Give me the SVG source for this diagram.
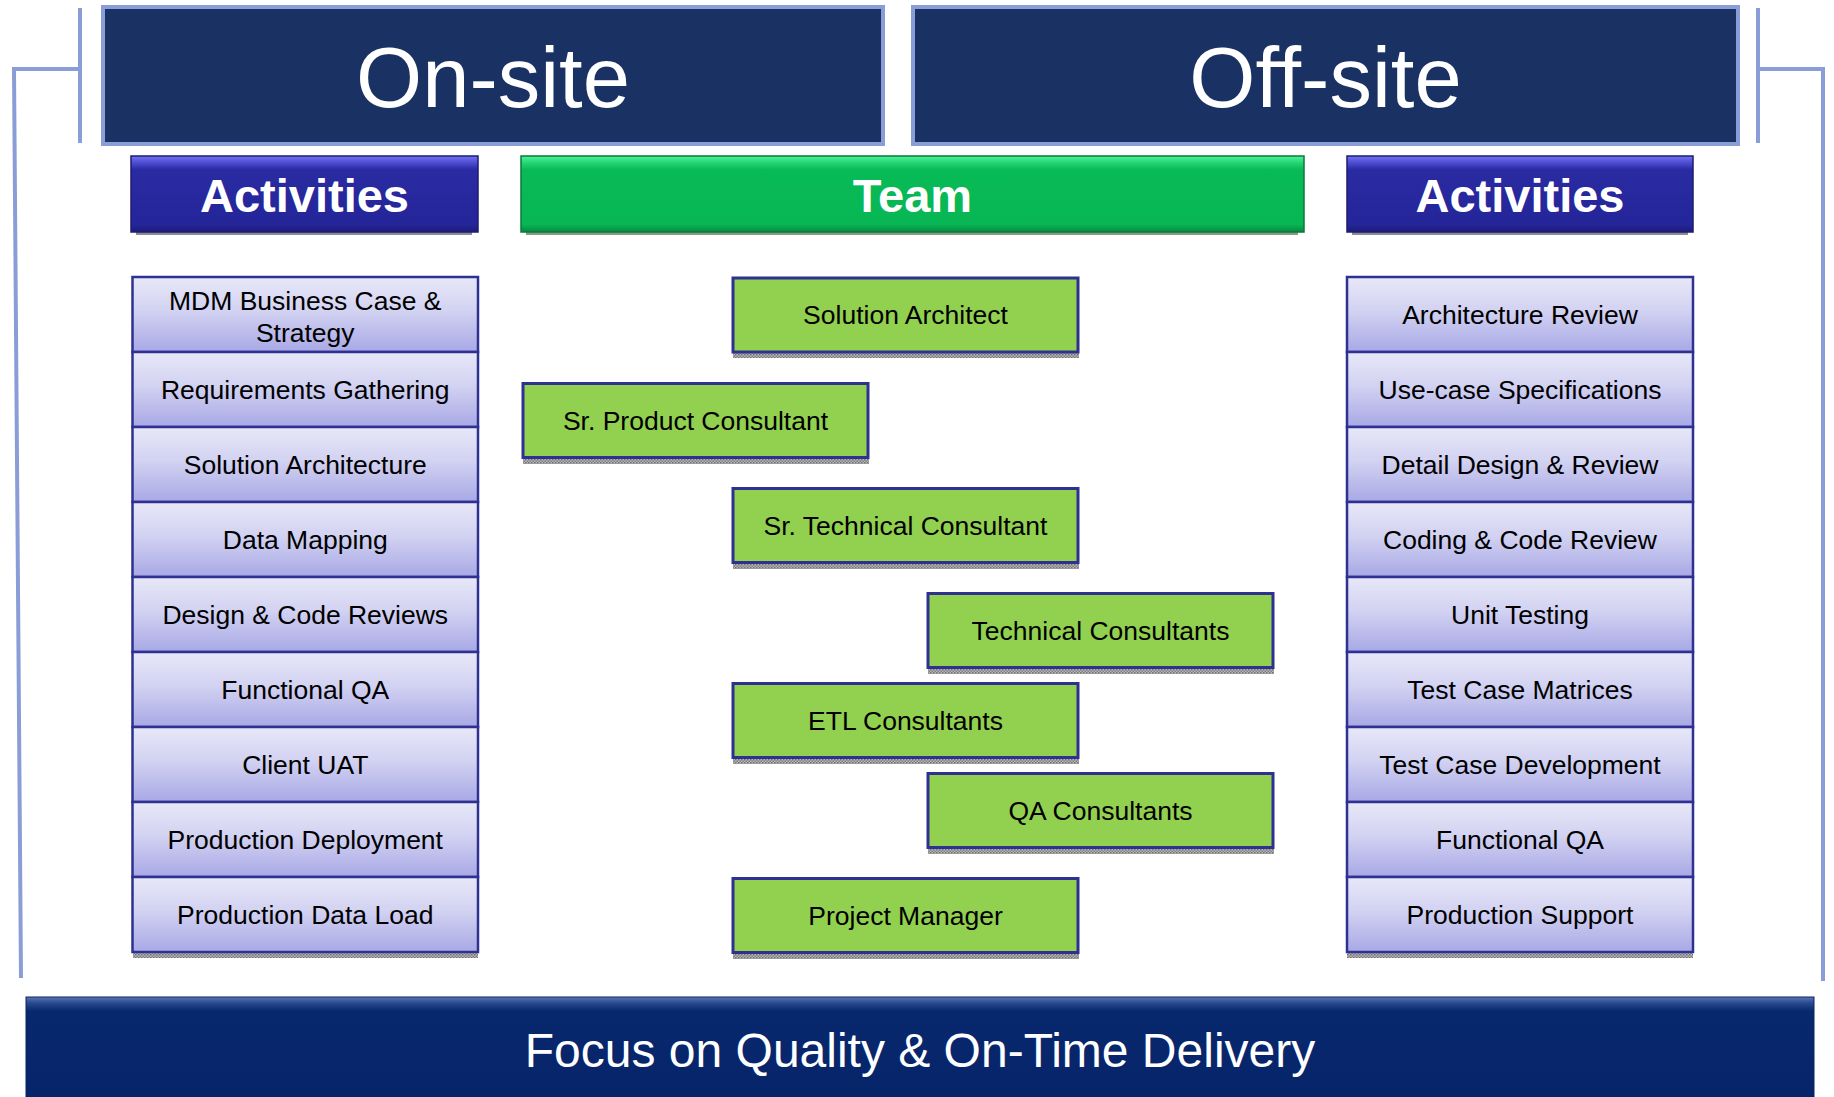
<svg xmlns="http://www.w3.org/2000/svg" width="1834" height="1097" viewBox="0 0 1834 1097">
  <defs>
    <linearGradient id="gRow" x1="0" y1="0" x2="0" y2="1">
      <stop offset="0" stop-color="#E8E8F8"/>
      <stop offset="0.45" stop-color="#D2D2F2"/>
      <stop offset="1" stop-color="#A8A8E6"/>
    </linearGradient>
    <linearGradient id="gAct" x1="0" y1="0" x2="0" y2="1">
      <stop offset="0" stop-color="#7373F5"/>
      <stop offset="0.1" stop-color="#4848CC"/>
      <stop offset="0.18" stop-color="#2A2AA2"/>
      <stop offset="0.9" stop-color="#25259A"/>
      <stop offset="1" stop-color="#1C1C78"/>
    </linearGradient>
    <linearGradient id="gTeam" x1="0" y1="0" x2="0" y2="1">
      <stop offset="0" stop-color="#4AF59A"/>
      <stop offset="0.1" stop-color="#22D070"/>
      <stop offset="0.18" stop-color="#08BB57"/>
      <stop offset="0.9" stop-color="#08B654"/>
      <stop offset="1" stop-color="#068A3F"/>
    </linearGradient>
    <linearGradient id="gFoot" x1="0" y1="0" x2="0" y2="1">
      <stop offset="0" stop-color="#5A76B4"/>
      <stop offset="0.06" stop-color="#2A4A8E"/>
      <stop offset="0.14" stop-color="#08286E"/>
      <stop offset="1" stop-color="#06246A"/>
    </linearGradient>
    <pattern id="hatch" width="3" height="3" patternUnits="userSpaceOnUse">
      <rect width="3" height="3" fill="#B8B8B8"/>
      <rect width="1.5" height="1.5" fill="#707070"/>
      <rect x="1.5" y="1.5" width="1.5" height="1.5" fill="#808080"/>
    </pattern>
    <style>
      .big { font-family: "Liberation Sans", Arial, sans-serif; font-size: 85px; fill: #FFFFFF; text-anchor: middle; }
      .hdr { font-family: "Liberation Sans", Arial, sans-serif; font-size: 47px; font-weight: bold; fill: #FFFFFF; text-anchor: middle; }
      .lbl { font-family: "Liberation Sans", Arial, sans-serif; font-size: 26.5px; fill: #000000; text-anchor: middle; }
      .foot { font-family: "Liberation Sans", Arial, sans-serif; font-size: 48px; fill: #FFFFFF; text-anchor: middle; }
      .site { fill: #1A3163; stroke: #8A9DD6; stroke-width: 4; }
      .row { fill: url(#gRow); stroke: #2E3192; stroke-width: 2.5; }
      .team { fill: #92D050; stroke: #2E3192; stroke-width: 3; }
      .shadow { fill: url(#hatch); }
      .bracket { fill: none; stroke: #8A9DD6; stroke-width: 4; }
    </style>
  </defs>

  <g id="brackets">
    <polyline class="bracket" points="80,8 80,143"/>
    <polyline class="bracket" points="80,69 14,69 21,978"/>
    <polyline class="bracket" points="1758,8 1758,143"/>
    <polyline class="bracket" points="1758,69 1823,69 1823,981"/>
  </g>

  <g id="onsite">
    <rect class="site" x="103" y="7" width="780" height="137"/>
    <text class="big" x="493" y="107">On-site</text>
  </g>
  <g id="offsite">
    <rect class="site" x="913" y="7" width="825" height="137"/>
    <text class="big" x="1325.5" y="107">Off-site</text>
  </g>

  <g id="activities-onsite-header">
    <rect x="136" y="232" width="336" height="3" fill="#8A8A9A"/>
    <rect x="131" y="156" width="347" height="76" fill="url(#gAct)" stroke="#1C1C70" stroke-width="1.5"/>
    <text class="hdr" x="304.5" y="212">Activities</text>
  </g>
  <g id="team-header">
    <rect x="526" y="232" width="772" height="3" fill="#8A9A8A"/>
    <rect x="521" y="156" width="783" height="76" fill="url(#gTeam)" stroke="#0A7A3A" stroke-width="1.5"/>
    <text class="hdr" x="912.5" y="212">Team</text>
  </g>
  <g id="activities-offsite-header">
    <rect x="1352" y="232" width="336" height="3" fill="#8A8A9A"/>
    <rect x="1347" y="156" width="346" height="76" fill="url(#gAct)" stroke="#1C1C70" stroke-width="1.5"/>
    <text class="hdr" x="1520" y="212">Activities</text>
  </g>

  <g id="onsite-activities">
    <rect class="shadow" x="133" y="953" width="345" height="5"/>
    <g id="on-1"><rect class="row" x="132.5" y="277" width="345.5" height="75"/>
      <text class="lbl" x="305.25" y="310">MDM Business Case &amp;</text>
      <text class="lbl" x="305.25" y="342">Strategy</text></g>
    <g id="on-2"><rect class="row" x="132.5" y="352" width="345.5" height="75"/><text class="lbl" x="305.25" y="399">Requirements Gathering</text></g>
    <g id="on-3"><rect class="row" x="132.5" y="427" width="345.5" height="75"/><text class="lbl" x="305.25" y="474">Solution Architecture</text></g>
    <g id="on-4"><rect class="row" x="132.5" y="502" width="345.5" height="75"/><text class="lbl" x="305.25" y="549">Data Mapping</text></g>
    <g id="on-5"><rect class="row" x="132.5" y="577" width="345.5" height="75"/><text class="lbl" x="305.25" y="624">Design &amp; Code Reviews</text></g>
    <g id="on-6"><rect class="row" x="132.5" y="652" width="345.5" height="75"/><text class="lbl" x="305.25" y="699">Functional QA</text></g>
    <g id="on-7"><rect class="row" x="132.5" y="727" width="345.5" height="75"/><text class="lbl" x="305.25" y="774">Client UAT</text></g>
    <g id="on-8"><rect class="row" x="132.5" y="802" width="345.5" height="75"/><text class="lbl" x="305.25" y="849">Production Deployment</text></g>
    <g id="on-9"><rect class="row" x="132.5" y="877" width="345.5" height="75"/><text class="lbl" x="305.25" y="924">Production Data Load</text></g>
  </g>

  <g id="offsite-activities">
    <rect class="shadow" x="1347" y="953" width="346" height="5"/>
    <g id="off-1"><rect class="row" x="1347" y="277" width="346" height="75"/><text class="lbl" x="1520" y="324">Architecture Review</text></g>
    <g id="off-2"><rect class="row" x="1347" y="352" width="346" height="75"/><text class="lbl" x="1520" y="399">Use-case Specifications</text></g>
    <g id="off-3"><rect class="row" x="1347" y="427" width="346" height="75"/><text class="lbl" x="1520" y="474">Detail Design &amp; Review</text></g>
    <g id="off-4"><rect class="row" x="1347" y="502" width="346" height="75"/><text class="lbl" x="1520" y="549">Coding &amp; Code Review</text></g>
    <g id="off-5"><rect class="row" x="1347" y="577" width="346" height="75"/><text class="lbl" x="1520" y="624">Unit Testing</text></g>
    <g id="off-6"><rect class="row" x="1347" y="652" width="346" height="75"/><text class="lbl" x="1520" y="699">Test Case Matrices</text></g>
    <g id="off-7"><rect class="row" x="1347" y="727" width="346" height="75"/><text class="lbl" x="1520" y="774">Test Case Development</text></g>
    <g id="off-8"><rect class="row" x="1347" y="802" width="346" height="75"/><text class="lbl" x="1520" y="849">Functional QA</text></g>
    <g id="off-9"><rect class="row" x="1347" y="877" width="346" height="75"/><text class="lbl" x="1520" y="924">Production Support</text></g>
  </g>

  <g id="team-solution-architect">
    <rect class="shadow" x="733" y="353" width="346" height="5"/>
    <rect class="team" x="733" y="278" width="345" height="74"/>
    <text class="lbl" x="905.5" y="324">Solution Architect</text>
  </g>
  <g id="team-sr-product-consultant">
    <rect class="shadow" x="523" y="459" width="346" height="5"/>
    <rect class="team" x="523" y="383.5" width="345" height="74"/>
    <text class="lbl" x="695.5" y="430">Sr. Product Consultant</text>
  </g>
  <g id="team-sr-technical-consultant">
    <rect class="shadow" x="733" y="564" width="346" height="5"/>
    <rect class="team" x="733" y="488.5" width="345" height="74"/>
    <text class="lbl" x="905.5" y="535">Sr. Technical Consultant</text>
  </g>
  <g id="team-technical-consultants">
    <rect class="shadow" x="928" y="669" width="346" height="5"/>
    <rect class="team" x="928" y="593.5" width="345" height="74"/>
    <text class="lbl" x="1100.5" y="640">Technical Consultants</text>
  </g>
  <g id="team-etl-consultants">
    <rect class="shadow" x="733" y="759" width="346" height="5"/>
    <rect class="team" x="733" y="683.5" width="345" height="74"/>
    <text class="lbl" x="905.5" y="730">ETL Consultants</text>
  </g>
  <g id="team-qa-consultants">
    <rect class="shadow" x="928" y="849" width="346" height="5"/>
    <rect class="team" x="928" y="773.5" width="345" height="74"/>
    <text class="lbl" x="1100.5" y="820">QA Consultants</text>
  </g>
  <g id="team-project-manager">
    <rect class="shadow" x="733" y="954" width="346" height="5"/>
    <rect class="team" x="733" y="878.5" width="345" height="74"/>
    <text class="lbl" x="905.5" y="925">Project Manager</text>
  </g>

  <g id="footer">
    <rect x="26" y="997" width="1788" height="100" fill="url(#gFoot)" stroke="#0A2266" stroke-width="1"/>
    <text class="foot" x="920" y="1067">Focus on Quality &amp; On-Time Delivery</text>
  </g>
</svg>
